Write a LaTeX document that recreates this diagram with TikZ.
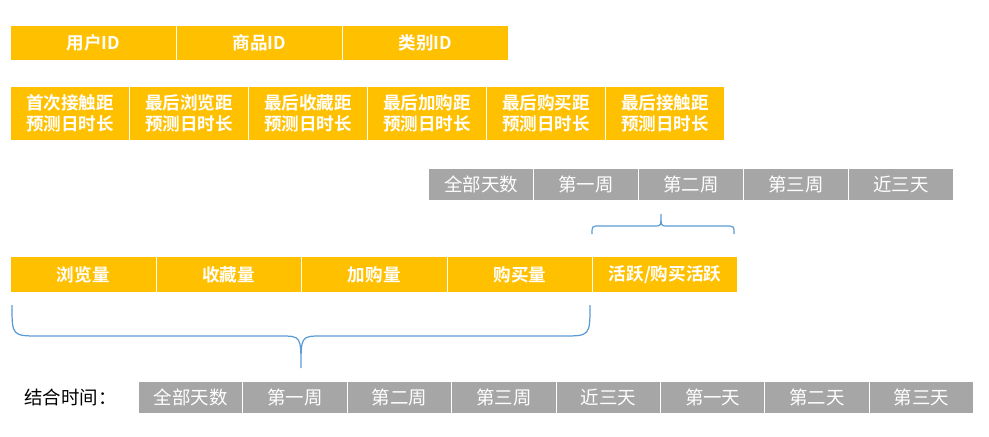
\documentclass[tikz,border=0pt]{standalone}
\usepackage{fontspec}
\setmainfont{Noto Sans CJK SC}
\newfontfamily\cjkbold{Noto Sans CJK SC Bold}
\usetikzlibrary{positioning}
\definecolor{boxyellow}{HTML}{FFC000}
\definecolor{boxgray}{HTML}{A6A6A6}
\definecolor{bracecol}{HTML}{5B9BD5}
\tikzset{
  ybox/.style={fill=boxyellow,draw=white,line width=0.6pt,text=white,font=\cjkbold\fontsize{10}{12}\selectfont,
    inner sep=0pt,align=center,anchor=north west},
  gbox/.style={fill=boxgray,draw=white,line width=0.6pt,text=white,font=\fontsize{10.5}{12}\selectfont,
    inner sep=0pt,align=center,anchor=north west},
  bracel/.style={draw=bracecol,line width=0.7pt}
}
\begin{document}
\begin{tikzpicture}[x=0.02cm,y=-0.02cm]
\useasboundingbox (0,0) rectangle (989,436);
% row of ids
\foreach \t [count=\i] in {用户ID,商品ID,类别ID}
  \node[ybox,minimum width=166*0.02cm,minimum height=35*0.02cm] (id\i) at ({10+166*(\i-1)},25) {\t};
% distance features
\foreach \t [count=\i] in {首次接触距,最后浏览距,最后收藏距,最后加购距,最后购买距,最后接触距}
  \node[ybox,minimum width=119*0.02cm,minimum height=54*0.02cm] (dist\i) at ({10+119*(\i-1)},86) {\t\\预测日时长};
% upper time windows
\foreach \t [count=\i] in {全部天数,第一周,第二周,第三周,近三天}
  \node[gbox,minimum width=105*0.02cm,minimum height=32*0.02cm] (win\i) at ({428+105*(\i-1)},168) {\t};
% counts
\foreach \t [count=\i] in {浏览量,收藏量,加购量,购买量}
  \node[ybox,minimum width=145.5*0.02cm,minimum height=36*0.02cm] (cnt\i) at ({10+145.5*(\i-1)},256) {\t};
\node[ybox,minimum width=145*0.02cm,minimum height=36*0.02cm] (act) at (592,256) {活跃/购买活跃};
% lower time windows
\node[font=\fontsize{10.5}{12}\selectfont,anchor=west] (joint) at (18,397) {结合时间：};
\foreach \t [count=\i] in {全部天数,第一周,第二周,第三周,近三天,第一天,第二天,第三天}
  \node[gbox,minimum width=104.4*0.02cm,minimum height=32*0.02cm] (tw\i) at ({138+104.4*(\i-1)},381) {\t};
% braces
\draw[bracel] (592,234) .. controls (592,226) .. (600,226) -- (655,226)
  .. controls (661,226) .. (661,214) .. controls (661,226) .. (667,226)
  -- (726,226) .. controls (734,226) .. (734,234);
\draw[bracel] (12,305) .. controls (12,336) .. (40,336) -- (280,336)
  .. controls (301,336) .. (301,368) .. controls (301,336) .. (322,336)
  -- (562,336) .. controls (590,336) .. (590,305);
\end{tikzpicture}
\end{document}
